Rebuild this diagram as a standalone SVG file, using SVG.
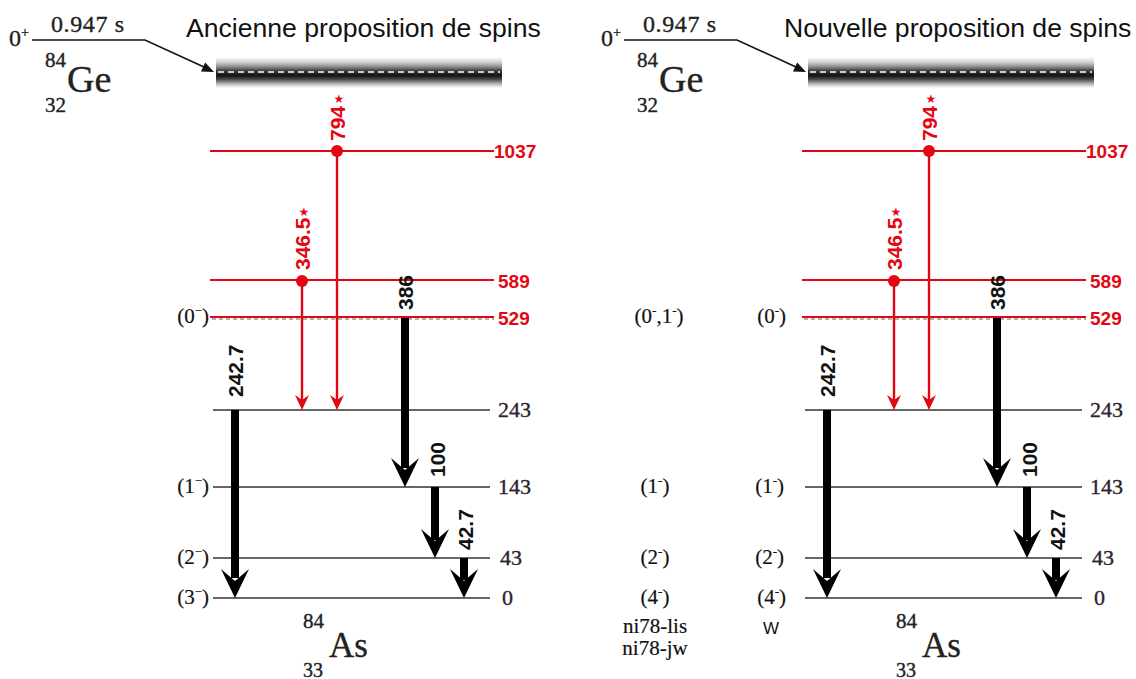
<svg xmlns="http://www.w3.org/2000/svg" xmlns:xlink="http://www.w3.org/1999/xlink" width="1136" height="679" viewBox="0 0 1136 679">
<defs>
<style>
.title{font-family:"Liberation Sans",Arial,sans-serif;font-size:26.6px;fill:#111}
.serif{font-family:"Liberation Serif","Times New Roman",serif;fill:#222;stroke:#222;stroke-width:0.35}
.lvl{font-family:"Liberation Serif","Times New Roman",serif;font-size:22px;fill:#2b2233;stroke:#2b2233;stroke-width:0.35}
.spin{font-family:"Liberation Serif","Times New Roman",serif;font-size:21px;fill:#111;stroke:#111;stroke-width:0.2}
.sup{font-size:13px}
.rlab{font-family:"Liberation Sans",Arial,sans-serif;font-size:19px;font-weight:bold;fill:#e30613}
.tlab{font-family:"Liberation Sans",Arial,sans-serif;font-size:21px;font-weight:bold}
.tred{fill:#e30613}
.tblk{fill:#111}
.star{font-family:"DejaVu Sans",sans-serif;font-size:12px;fill:#e30613}
.blk{stroke:#333;stroke-width:1.6;fill:none}
.red{stroke:#e30613;stroke-width:2;fill:none}
.redv{stroke:#e30613;stroke-width:2.4;fill:none}
.thick{stroke:#000;stroke-width:8;fill:none}
.dash{stroke:#666;stroke-width:1;stroke-dasharray:4 3;fill:none}
.banddash{stroke:#fff;stroke-width:1.4;stroke-dasharray:6 4;fill:none}
</style>
<linearGradient id="bandGrad" x1="0" y1="0" x2="0" y2="1">
<stop offset="0" stop-color="#fff"/>
<stop offset="0.16" stop-color="#d6d6d6"/>
<stop offset="0.32" stop-color="#8a8a8a"/>
<stop offset="0.45" stop-color="#3a3a3a"/>
<stop offset="0.6" stop-color="#151515"/>
<stop offset="0.72" stop-color="#4a4a4a"/>
<stop offset="0.87" stop-color="#b8b8b8"/>
<stop offset="1" stop-color="#fff"/>
</linearGradient>
<path id="bigHead" d="M0,0 L-14,-29 L0,-17 L14,-29 Z" fill="#000"/>
<path id="redHead" d="M0,0 L-7,-15 L0,-10 L7,-15 Z" fill="#e30613"/>
</defs>
<rect x="0" y="0" width="1136" height="679" fill="#fff"/>

<!-- LEFT PANEL -->
<g id="left-title"><text class="title" x="186" y="37">Ancienne proposition de spins</text></g>
<g id="left-parent">
<text class="serif" x="9" y="46" font-size="24">0<tspan font-size="14" dy="-9">+</tspan></text>
<text class="serif" x="51" y="32" font-size="24" textLength="73">0.947 s</text>
<text class="serif" x="45" y="67" font-size="21">84</text>
<text class="serif" x="67" y="92" font-size="38">Ge</text>
<text class="serif" x="45" y="112" font-size="21">32</text>
</g>
<g id="left-band">
<rect x="216" y="57" width="286" height="31" fill="url(#bandGrad)"/>
<line class="banddash" x1="218" y1="72" x2="500" y2="72"/>
</g>
<g id="left-levels">
<g id="L1037"><line class="red" x1="210" y1="151" x2="494" y2="151"/><text class="rlab" x="494" y="158">1037</text></g>
<g id="L589"><line class="red" x1="210" y1="280" x2="494" y2="280"/><text class="rlab" x="498" y="288">589</text></g>
<g id="L529"><line class="dash" x1="212" y1="319" x2="494" y2="319"/><line class="red" x1="210" y1="317" x2="494" y2="317"/><text class="rlab" x="498" y="325">529</text><text class="spin" x="209" y="323" text-anchor="end">(0<tspan class="sup" dy="-8">−</tspan><tspan dy="8">)</tspan></text></g>
<g id="L243"><line class="blk" x1="213" y1="410" x2="490" y2="410"/><text class="lvl" x="498" y="417">243</text></g>
<g id="L143"><line class="blk" x1="213" y1="487" x2="490" y2="487"/><text class="lvl" x="498" y="494">143</text><text class="spin" x="209" y="493" text-anchor="end">(1<tspan class="sup" dy="-8">−</tspan><tspan dy="8">)</tspan></text></g>
<g id="L43"><line class="blk" x1="213" y1="558" x2="490" y2="558"/><text class="lvl" x="500" y="565">43</text><text class="spin" x="209" y="564" text-anchor="end">(2<tspan class="sup" dy="-8">−</tspan><tspan dy="8">)</tspan></text></g>
<g id="L0"><line class="blk" x1="213" y1="598" x2="490" y2="598"/><text class="lvl" x="502" y="605">0</text><text class="spin" x="209" y="604" text-anchor="end">(3<tspan class="sup" dy="-8">−</tspan><tspan dy="8">)</tspan></text></g>
</g>
<g id="left-daughter">
<text class="serif" x="303" y="628" font-size="21">84</text>
<text class="serif" x="329" y="657" font-size="35">As</text>
<text class="serif" x="303" y="677" font-size="20">33</text>
</g>
<g id="left-connectors">
<polyline points="32,40 145,40 204,67" fill="none" stroke="#111" stroke-width="1.5"/>
<polygon points="214,72 205.2,62.5 201,71.6" fill="#111"/>
<line class="redv" x1="337" y1="151" x2="337" y2="400"/>
<circle cx="337" cy="151" r="6" fill="#e30613"/>
<use xlink:href="#redHead" x="337" y="410"/>
<text class="tlab tred" transform="translate(345,141) rotate(-90)">794</text>
<text class="star" x="339" y="103" text-anchor="middle">★</text>
<line class="redv" x1="302" y1="280" x2="302" y2="400"/>
<circle cx="302" cy="281" r="6" fill="#e30613"/>
<use xlink:href="#redHead" x="302" y="410"/>
<text class="tlab tred" transform="translate(310,270) rotate(-90)">346.5</text>
<text class="star" x="304" y="216" text-anchor="middle">★</text>
<line class="thick" x1="405" y1="318" x2="405" y2="468"/>
<use xlink:href="#bigHead" x="405" y="487"/>
<text class="tlab tblk" transform="translate(413,310) rotate(-90)">386</text>
<line class="thick" x1="235" y1="410" x2="235" y2="578"/>
<use xlink:href="#bigHead" x="235" y="598"/>
<text class="tlab tblk" transform="translate(243,397) rotate(-90)">242.7</text>
<line class="thick" x1="435" y1="487" x2="435" y2="540"/>
<use xlink:href="#bigHead" x="435" y="558"/>
<text class="tlab tblk" transform="translate(445,477) rotate(-90)">100</text>
<line class="thick" x1="464" y1="558" x2="464" y2="580"/>
<use xlink:href="#bigHead" x="464" y="598"/>
<text class="tlab tblk" transform="translate(473,550) rotate(-90)">42.7</text>
</g>

<!-- RIGHT PANEL -->
<g id="right-title"><text class="title" x="784" y="37">Nouvelle proposition de spins</text></g>
<g id="right-parent">
<text class="serif" x="601" y="46" font-size="24">0<tspan font-size="14" dy="-9">+</tspan></text>
<text class="serif" x="643" y="32" font-size="24" textLength="73">0.947 s</text>
<text class="serif" x="637" y="67" font-size="21">84</text>
<text class="serif" x="659" y="92" font-size="38">Ge</text>
<text class="serif" x="637" y="112" font-size="21">32</text>
</g>
<g id="right-band">
<rect x="808" y="57" width="286" height="31" fill="url(#bandGrad)"/>
<line class="banddash" x1="810" y1="72" x2="1092" y2="72"/>
</g>
<g id="right-levels">
<g id="R1037"><line class="red" x1="802" y1="151" x2="1086" y2="151"/><text class="rlab" x="1086" y="158">1037</text></g>
<g id="R589"><line class="red" x1="802" y1="280" x2="1086" y2="280"/><text class="rlab" x="1090" y="288">589</text></g>
<g id="R529"><line class="dash" x1="804" y1="319" x2="1086" y2="319"/><line class="red" x1="802" y1="317" x2="1086" y2="317"/><text class="rlab" x="1090" y="325">529</text><text class="spin" x="786" y="323" text-anchor="end">(0<tspan class="sup" dy="-8">-</tspan><tspan dy="8">)</tspan></text></g>
<g id="R243"><line class="blk" x1="805" y1="410" x2="1082" y2="410"/><text class="lvl" x="1090" y="417">243</text></g>
<g id="R143"><line class="blk" x1="805" y1="487" x2="1082" y2="487"/><text class="lvl" x="1090" y="494">143</text><text class="spin" x="784" y="493" text-anchor="end">(1<tspan class="sup" dy="-8">-</tspan><tspan dy="8">)</tspan></text></g>
<g id="R43"><line class="blk" x1="805" y1="558" x2="1082" y2="558"/><text class="lvl" x="1092" y="565">43</text><text class="spin" x="784" y="564" text-anchor="end">(2<tspan class="sup" dy="-8">-</tspan><tspan dy="8">)</tspan></text></g>
<g id="R0"><line class="blk" x1="805" y1="598" x2="1082" y2="598"/><text class="lvl" x="1094" y="605">0</text><text class="spin" x="786" y="604" text-anchor="end">(4<tspan class="sup" dy="-8">-</tspan><tspan dy="8">)</tspan></text></g>
</g>
<g id="right-column">
<text class="spin" x="659" y="323" text-anchor="middle">(0<tspan class="sup" dy="-8">-</tspan><tspan dy="8">,1</tspan><tspan class="sup" dy="-8">-</tspan><tspan dy="8">)</tspan></text>
<text class="spin" x="655" y="493" text-anchor="middle">(1<tspan class="sup" dy="-8">-</tspan><tspan dy="8">)</tspan></text>
<text class="spin" x="655" y="564" text-anchor="middle">(2<tspan class="sup" dy="-8">-</tspan><tspan dy="8">)</tspan></text>
<text class="spin" x="655" y="604" text-anchor="middle">(4<tspan class="sup" dy="-8">-</tspan><tspan dy="8">)</tspan></text>
<text class="spin" x="655" y="633" text-anchor="middle">ni78-lis</text>
<text class="spin" x="655" y="655" text-anchor="middle">ni78-jw</text>
<text x="771" y="634" text-anchor="middle" font-family="Liberation Sans, Arial, sans-serif" font-size="17" fill="#111">W</text>
</g>
<g id="right-daughter">
<text class="serif" x="896" y="628" font-size="21">84</text>
<text class="serif" x="922" y="657" font-size="35">As</text>
<text class="serif" x="896" y="677" font-size="20">33</text>
</g>
<g id="right-connectors">
<polyline points="624,40 737,40 796,67" fill="none" stroke="#111" stroke-width="1.5"/>
<polygon points="806,72 797.2,62.5 793,71.6" fill="#111"/>
<line class="redv" x1="929" y1="151" x2="929" y2="400"/>
<circle cx="929" cy="151" r="6" fill="#e30613"/>
<use xlink:href="#redHead" x="929" y="410"/>
<text class="tlab tred" transform="translate(937,141) rotate(-90)">794</text>
<text class="star" x="931" y="103" text-anchor="middle">★</text>
<line class="redv" x1="894" y1="280" x2="894" y2="400"/>
<circle cx="894" cy="281" r="6" fill="#e30613"/>
<use xlink:href="#redHead" x="894" y="410"/>
<text class="tlab tred" transform="translate(902,270) rotate(-90)">346.5</text>
<text class="star" x="896" y="216" text-anchor="middle">★</text>
<line class="thick" x1="997" y1="318" x2="997" y2="468"/>
<use xlink:href="#bigHead" x="997" y="487"/>
<text class="tlab tblk" transform="translate(1005,310) rotate(-90)">386</text>
<line class="thick" x1="827" y1="410" x2="827" y2="578"/>
<use xlink:href="#bigHead" x="827" y="598"/>
<text class="tlab tblk" transform="translate(835,397) rotate(-90)">242.7</text>
<line class="thick" x1="1027" y1="487" x2="1027" y2="540"/>
<use xlink:href="#bigHead" x="1027" y="558"/>
<text class="tlab tblk" transform="translate(1037,477) rotate(-90)">100</text>
<line class="thick" x1="1056" y1="558" x2="1056" y2="580"/>
<use xlink:href="#bigHead" x="1056" y="598"/>
<text class="tlab tblk" transform="translate(1065,550) rotate(-90)">42.7</text>
</g>
</svg>
